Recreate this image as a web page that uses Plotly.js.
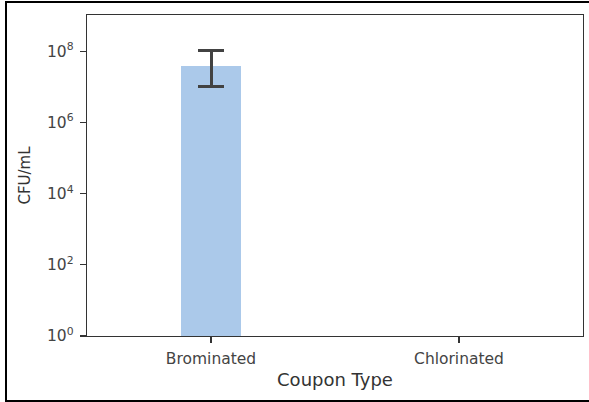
<!DOCTYPE html>
<html><head><meta charset="utf-8">
<script src="https://cdn.plot.ly/plotly-3.0.1.min.js"></script>
<style>
html,body{margin:0;padding:0;background:#fff;}
#wrap{position:relative;width:589px;height:402px;overflow:hidden;}
#frame{position:absolute;left:5px;top:1px;width:600px;height:401px;border:2px solid #000;box-sizing:border-box;pointer-events:none;}
#chart{position:absolute;left:0;top:0;width:589px;height:402px;}
</style></head>
<body><div id="wrap"><div id="chart"></div><div id="frame"></div></div>
<script>
const categories = ["Brominated", "Chlorinated"];
const cfuMean = [3.8e7, null];
const errUpper = [1.05e8, null];
const errLower = [1.05e7, null];
const yTickVals = [1, 1e2, 1e4, 1e6, 1e8];
const yTickText = ["10<sup>0</sup>", "10<sup>2</sup>", "10<sup>4</sup>", "10<sup>6</sup>", "10<sup>8</sup>"];

const plus = cfuMean.map((v,i)=> v==null?null:errUpper[i]-v);
const minus = cfuMean.map((v,i)=> v==null?null:v-errLower[i]);

const trace = {
  type: 'bar', x: categories, y: cfuMean, width: 0.245,
  marker: {color: '#abc9ea', line: {width: 0}},
  error_y: {type: 'data', symmetric: false, array: plus, arrayminus: minus,
            color: '#424242', thickness: 3, width: 13},
  hoverinfo: 'none'
};
const axisCommon = {showline: true, linecolor: '#333', linewidth: 1.3, mirror: true,
  ticks: 'outside', ticklen: 6, tickwidth: 1.3, tickcolor: '#333', showgrid: false, zeroline: false,
  tickfont: {family: 'DejaVu Sans', size: 15.5, color: '#444'}};
const layout = {
  width: 589, height: 402,
  margin: {l: 87, r: 6, t: 15, b: 66},
  paper_bgcolor: '#fff', plot_bgcolor: '#fff',
  showlegend: false, bargap: 0,
  xaxis: Object.assign({}, axisCommon, {type: 'category', range: [-0.5, 1.5], ticklabelstandoff: 2,
    title: {text: 'Coupon Type', font: {family: 'DejaVu Sans', size: 18, color: '#333'}, standoff: 6}}),
  yaxis: Object.assign({}, axisCommon, {type: 'log', range: [0, 9.02],
    tickvals: yTickVals, ticktext: yTickText, ticklabelstandoff: 3,
    title: {text: 'CFU/mL', font: {family: 'DejaVu Sans', size: 15, color: '#333'}, standoff: 12}})
};
Plotly.newPlot('chart', [trace], layout, {displayModeBar: false, staticPlot: true});
</script></body></html>
